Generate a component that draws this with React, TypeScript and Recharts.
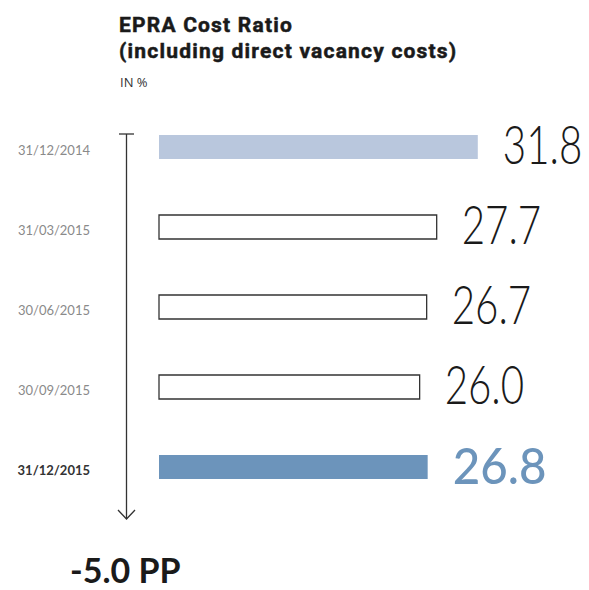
import React from 'react';
import { BarChart, Bar, XAxis, YAxis, Cell, LabelList, Customized } from 'recharts';

const categories = ['31/12/2014', '31/03/2015', '30/06/2015', '30/09/2015', '31/12/2015'];
const values = [31.8, 27.7, 26.7, 26.0, 26.8];
const kinds = ['previous', 'quarter', 'quarter', 'quarter', 'current'];

const data = categories.map((date, i) => ({ date, value: values[i], kind: kinds[i] }));

const barFill: Record<string, string> = { previous: '#b9c7dd', quarter: '#ffffff', current: '#6c94bb' };
const barStroke: Record<string, string> = { previous: 'none', quarter: '#333333', current: 'none' };

const DateTick = (props: any) => {
  const { y, payload, index } = props;
  const isCurrent = index === categories.length - 1;
  return (
    <text
      x={90}
      y={y + 8}
      textAnchor="end"
      fontFamily="Lato, 'Open Sans', sans-serif"
      fontSize={13}
      fontWeight={isCurrent ? 700 : 400}
      fill={isCurrent ? '#333333' : '#8a8a8a'}
    >
      {payload.value}
    </text>
  );
};

const ValueLabel = (props: any) => {
  const { x, y, width, height, value, index } = props;
  const isCurrent = kinds[index] === 'current';
  const tx = x + width + 25;
  const ty = y + height / 2 + 17;
  // the original face is condensed, so squeeze the glyphs horizontally
  return (
    <text
      transform={`translate(${tx},${ty}) scale(${isCurrent ? 0.95 : 0.76},1)`}
      x={0}
      y={0}
      textAnchor="start"
      fontFamily="Lato, 'Open Sans', sans-serif"
      fontSize={isCurrent ? 50 : 53}
      fontWeight={isCurrent ? 500 : 300}
      fill={isCurrent ? '#6c94bb' : '#1a1a1a'}
    >
      {Number(value).toFixed(1)}
    </text>
  );
};

// the timeline arrow on the left of the bars
const Arrow = () => (
  <g stroke="#333333" strokeWidth={1.3} fill="none">
    <line x1={119} y1={134} x2={134} y2={134} />
    <line x1={126.5} y1={134} x2={126.5} y2={519} />
    <polyline points="118,510 126.5,519 135,510" />
  </g>
);

const titleStyle: React.CSSProperties = {
  position: 'absolute',
  left: 119,
  fontFamily: "Roboto, 'Open Sans', sans-serif",
  fontWeight: 700,
  fontSize: 21,
  letterSpacing: 1.2,
  lineHeight: '25px',
  color: '#1a1a1a',
  whiteSpace: 'nowrap',
  WebkitTextStroke: '0.5px #1a1a1a',
};

export default function App() {
  return (
    <div style={{ position: 'absolute', left: 0, top: 0, width: 589, height: 590, background: '#fff' }}>
      <div style={{ ...titleStyle, top: 13 }}>EPRA Cost Ratio</div>
      <div style={{ ...titleStyle, top: 39 }}>(including direct vacancy costs)</div>
      <div
        style={{
          position: 'absolute',
          left: 120,
          top: 74,
          fontFamily: "'Open Sans', Lato, sans-serif",
          fontSize: 13,
          lineHeight: '17px',
          color: '#333333',
        }}
      >
        IN %
      </div>
      <BarChart
        width={589}
        height={590}
        data={data}
        layout="vertical"
        margin={{ top: 107, right: 29, bottom: 83, left: 0 }}
        barCategoryGap={56}
      >
        <XAxis type="number" domain={[0, 40]} hide />
        <YAxis type="category" dataKey="date" width={159} axisLine={false} tickLine={false} tick={<DateTick />} />
        <Bar dataKey="value" barSize={24} isAnimationActive={false}>
          {data.map((d, i) => (
            <Cell key={i} fill={barFill[d.kind]} stroke={barStroke[d.kind]} strokeWidth={1.3} />
          ))}
          <LabelList dataKey="value" content={<ValueLabel />} />
        </Bar>
        <Customized component={<Arrow />} />
      </BarChart>
      <div
        style={{
          position: 'absolute',
          left: 70,
          top: 553,
          fontFamily: "Lato, 'Open Sans', sans-serif",
          fontWeight: 700,
          fontSize: 34,
          lineHeight: 1,
          color: '#1a1a1a',
          whiteSpace: 'nowrap',
        }}
      >
        -5.0 PP
      </div>
    </div>
  );
}
